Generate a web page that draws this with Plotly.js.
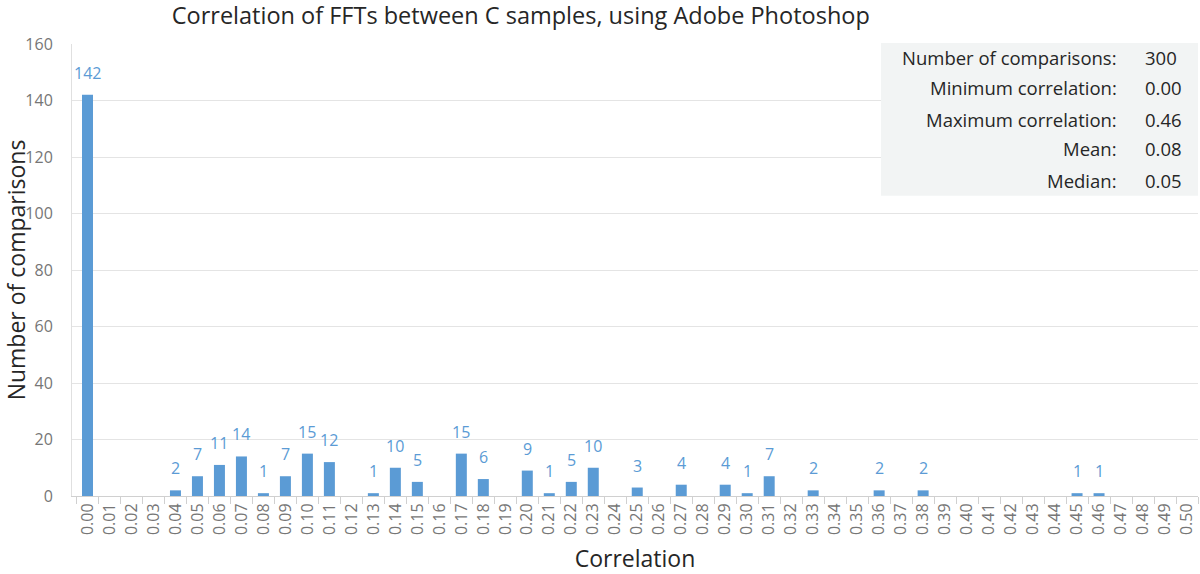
<!DOCTYPE html>
<html>
<head>
<meta charset="utf-8">
<script src="https://cdn.plot.ly/plotly-3.0.1.min.js"></script>
<style>
  body { margin: 0; background: #fff; }
  #plot { width: 1200px; height: 574px; }
</style>
</head>
<body>
<div id="plot"></div>
<script>
// bins of correlation, 0.00 .. 0.50
let bins = [];
for (let i = 0; i <= 50; i++) bins.push((i / 100).toFixed(2));

// number of comparisons per bin
let counts = [
  142, 0, 0, 0, 2, 7, 11, 14, 1, 7,
  15, 12, 0, 1, 10, 5, 0, 15, 6, 0,
  9, 1, 5, 10, 0, 3, 0, 4, 0, 4,
  1, 7, 0, 2, 0, 0, 2, 0, 2, 0,
  0, 0, 0, 0, 0, 1, 1, 0, 0, 0,
  0
];

let statLabels = ['Number of comparisons:', 'Minimum correlation:', 'Maximum correlation:', 'Mean:', 'Median:'];
let statValues = ['300', '0.00', '0.46', '0.08', '0.05'];

let blue = '#5b9bd5';
let fontFam = '"Open Sans", "Noto Sans", sans-serif';

let trace = {
  x: bins,
  y: counts,
  type: 'bar',
  marker: {color: blue},
  hoverinfo: 'x+y'
};

let annotations = [];

// value labels above non-empty bars (category axis: position = bin index)
bins.forEach((b, i) => {
  if (counts[i] > 0) {
    annotations.push({
      x: i, y: counts[i], xref: 'x', yref: 'y',
      text: String(counts[i]), showarrow: false,
      yanchor: 'bottom', yshift: 9,
      font: {size: 16, color: blue, family: fontFam}
    });
  }
});

// stats box in the top right corner
let statY = [0.971, 0.903, 0.834, 0.768, 0.699];
statLabels.forEach((lab, i) => {
  annotations.push({
    xref: 'paper', yref: 'paper', x: 0.930, y: statY[i],
    xanchor: 'right', yanchor: 'middle', showarrow: false,
    text: lab, font: {size: 18.5, color: '#262626', family: fontFam}
  });
  annotations.push({
    xref: 'paper', yref: 'paper', x: 0.951, y: statY[i],
    xanchor: 'left', yanchor: 'middle', showarrow: false,
    text: statValues[i], font: {size: 18.5, color: '#262626', family: fontFam}
  });
});

let layout = {
  width: 1200,
  height: 574,
  margin: {l: 72, r: 2, t: 44, b: 78},
  paper_bgcolor: '#fff',
  plot_bgcolor: '#fff',
  bargap: 0.5,
  showlegend: false,
  font: {family: fontFam, color: '#767676'},
  title: {
    text: 'Correlation of FFTs between C samples, using Adobe Photoshop',
    x: 0.434, xanchor: 'center', xref: 'container',
    y: 0.972, yanchor: 'middle', yref: 'container',
    font: {size: 23.5, color: '#262626', family: fontFam}
  },
  xaxis: {
    type: 'category',
    automargin: false,
    tickangle: -90,
    tickfont: {size: 16, color: '#767676'},
    ticks: 'outside',
    tickson: 'boundaries',
    ticklen: 7,
    tickcolor: '#d0d0d0',
    showline: true,
    linecolor: '#d0d0d0',
    showgrid: false,
    title: {text: 'Correlation', font: {size: 23, color: '#262626'}, standoff: 28}
  },
  yaxis: {
    automargin: false,
    range: [0, 160],
    dtick: 20,
    tickfont: {size: 16, color: '#767676'},
    ticks: 'outside',
    ticklen: 15,
    tickcolor: 'rgba(0,0,0,0)',
    gridcolor: '#e4e4e4',
    showline: true,
    linecolor: '#e0e0e0',
    zeroline: false,
    title: {text: 'Number of comparisons', font: {size: 23, color: '#262626'}, standoff: 0}
  },
  shapes: [{
    type: 'rect', xref: 'paper', yref: 'paper',
    x0: 0.7185, x1: 1.0, y0: 0.664, y1: 1.002,
    fillcolor: '#f2f4f4', line: {width: 0}, layer: 'above'
  }],
  annotations: annotations
};

Plotly.newPlot('plot', [trace], layout, {displayModeBar: false, staticPlot: true});
</script>
</body>
</html>
